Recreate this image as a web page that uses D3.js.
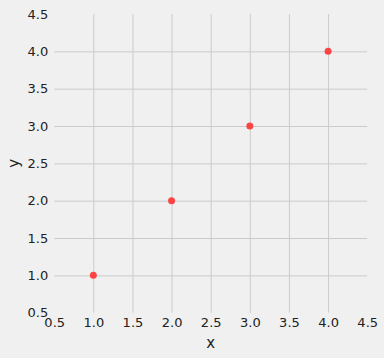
<!DOCTYPE html>
<html><head><meta charset="utf-8">
<script src="https://cdn.jsdelivr.net/npm/d3@7"></script>
<style>body{margin:0;background:#f0f0f0}svg{display:block}</style>
</head><body><svg id="c" width="384" height="358"></svg>
<script>
const xValues = [1, 2, 3, 4];
const yValues = [1, 2, 3, 4];
const xTicks = [0.5, 1.0, 1.5, 2.0, 2.5, 3.0, 3.5, 4.0, 4.5];
const yTicks = [0.5, 1.0, 1.5, 2.0, 2.5, 3.0, 3.5, 4.0, 4.5];

const svg = d3.select("#c");
svg.append("rect").attr("width",384).attr("height",358).attr("fill","#f0f0f0");
const L=54.2, R=367.2, T=14, B=312.7;
const x = d3.scaleLinear().domain([0.5,4.5]).range([L,R]);
const y = d3.scaleLinear().domain([0.5,4.5]).range([B,T]);
const font = "DejaVu Sans, sans-serif";

const gx = svg.append("g").attr("transform",`translate(0,${B})`)
  .call(d3.axisBottom(x).tickValues(xTicks).tickFormat(d3.format(".1f")).tickSize(-(B-T)).tickPadding(5));
const gy = svg.append("g").attr("transform",`translate(${L},0)`)
  .call(d3.axisLeft(y).tickValues(yTicks).tickFormat(d3.format(".1f")).tickSize(-(R-L)).tickPadding(6));
[gx,gy].forEach(g=>{
  g.select(".domain").remove();
  g.selectAll(".tick line").attr("stroke","#cbcbcb").attr("stroke-width",1)
    .attr("display",d=>(d===0.5||d===4.5)?"none":null);
  g.selectAll(".tick text").attr("fill","#222").style("font-family",font).style("font-size","13px");
});
gx.selectAll(".tick text").attr("dy","0.71em");

svg.append("g").selectAll("circle").data(xValues.map((v,i)=>[v,yValues[i]])).join("circle")
  .attr("cx",d=>x(d[0])).attr("cy",d=>y(d[1])).attr("r",3.5).attr("fill","#fc3c3c").attr("opacity",0.95);

svg.append("text").attr("x",(L+R)/2).attr("y",348).attr("text-anchor","middle")
  .style("font-family",font).style("font-size","15px").attr("fill","#222").text("x");
svg.append("text").attr("transform",`translate(19,${(T+B)/2}) rotate(-90)`).attr("text-anchor","middle")
  .style("font-family",font).style("font-size","15px").attr("fill","#222").text("y");
</script></body></html>
